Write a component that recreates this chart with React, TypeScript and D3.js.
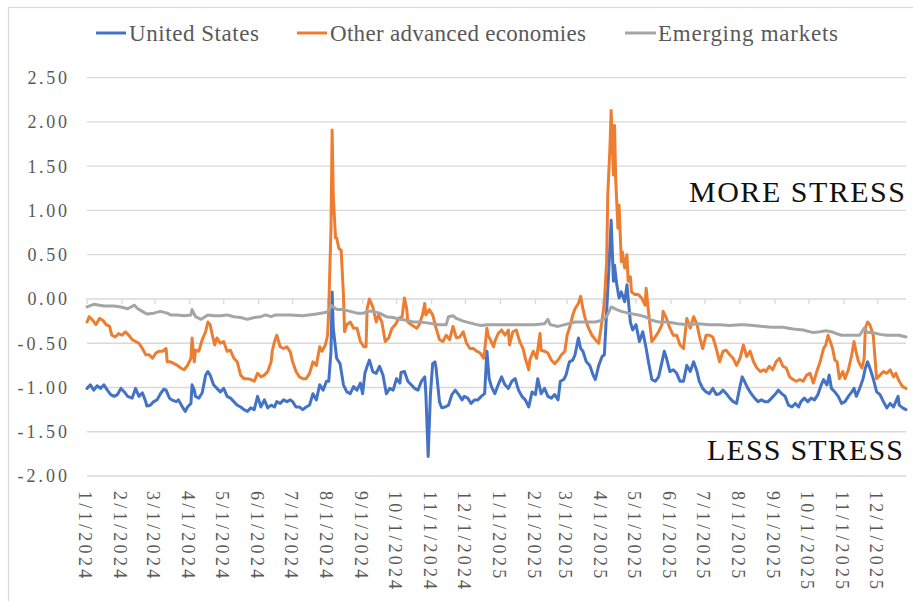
import React from "react";
import * as d3 from "d3";

// x categories: days since 1 Jan 2024 (first element of each pair), value (second)
const usSeries: [number, number][] = [
  [0,-1.01],[3,-0.97],[6,-1.03],[9,-0.98],[12,-1.01],[15,-0.97],[18,-1.03],[21,-1.08],[24,-1.10],[27,-1.08],[30,-1.01],[33,-1.05],[36,-1.10],[40,-1.12],[43,-1.01],[46,-1.10],[49,-1.06],[52,-1.16],[53,-1.21],[56,-1.20],[59,-1.16],[62,-1.14],[65,-1.07],[68,-1.02],[70,-1.03],[73,-1.12],[75,-1.14],[79,-1.16],[81,-1.14],[84,-1.21],[87,-1.27],[89,-1.22],[92,-1.18],[93,-0.97],[95,-1.03],[96,-1.10],[99,-1.12],[102,-1.06],[105,-0.86],[107,-0.82],[109,-0.86],[112,-0.97],[115,-1.01],[118,-1.05],[121,-1.01],[124,-1.10],[127,-1.12],[130,-1.16],[133,-1.20],[136,-1.22],[139,-1.25],[142,-1.27],[145,-1.23],[148,-1.25],[151,-1.10],[154,-1.22],[157,-1.14],[160,-1.23],[163,-1.20],[166,-1.22],[168,-1.16],[171,-1.18],[174,-1.14],[177,-1.16],[180,-1.14],
  [182,-1.16],[185,-1.22],[188,-1.22],[191,-1.25],[194,-1.22],[197,-1.20],[200,-1.07],[203,-1.14],[206,-0.97],[209,-1.03],[212,-0.93],[214,-0.93],[216,-0.59],[217,0.08],[218,-0.33],[221,-0.67],[224,-0.73],[227,-0.97],[230,-1.05],[233,-1.07],[236,-0.99],[239,-1.03],[242,-0.95],[244,-1.07],[246,-0.84],[248,-0.76],[250,-0.69],[253,-0.82],[256,-0.84],[259,-0.76],[262,-0.86],[265,-1.07],[268,-1.01],[271,-1.03],[274,-0.90],[277,-0.95],[278,-0.83],[281,-0.82],[284,-0.93],[287,-0.97],[290,-1.01],[293,-1.03],[296,-0.93],[299,-0.88],[300,-1.08],[302,-1.78],[304,-1.08],[306,-0.73],[308,-0.71],[309,-0.78],[312,-1.16],[314,-1.23],[317,-1.22],[320,-1.20],[323,-1.08],[326,-1.03],[329,-1.08],[332,-1.14],[334,-1.10],[337,-1.12],[340,-1.18],[343,-1.14],[346,-1.14],[349,-1.10],[352,-1.07],[354,-0.59],[356,-0.90],[358,-0.99],
  [361,-1.07],[364,-0.97],[367,-0.88],[370,-0.97],[373,-1.01],[376,-0.93],[379,-0.90],[382,-1.03],[385,-1.10],[388,-1.14],[391,-1.22],[394,-1.05],[397,-1.08],[399,-0.90],[402,-1.07],[405,-1.01],[408,-1.10],[411,-1.12],[414,-1.08],[417,-1.14],[419,-0.93],[422,-0.91],[424,-0.86],[427,-0.71],[430,-0.69],[432,-0.63],[435,-0.44],[437,-0.56],[439,-0.59],[442,-0.71],[445,-0.75],[448,-0.86],[450,-0.91],[453,-0.75],[456,-0.65],[458,-0.63],[460,-0.14],[462,0.35],[464,0.89],[466,0.20],[467,0.38],[469,0.16],[471,0.01],[473,0.08],[476,-0.03],[478,0.16],[481,-0.26],[483,-0.35],[486,-0.29],[489,-0.48],[492,-0.37],[495,-0.56],[497,-0.71],[500,-0.91],[503,-0.93],[506,-0.88],[509,-0.71],[511,-0.59],[513,-0.67],[516,-0.82],[519,-0.80],[522,-0.84],[525,-0.93],[528,-0.93],[531,-0.75],[534,-0.82],[537,-0.71],[540,-0.82],[542,-0.93],
  [545,-1.01],[548,-1.05],[551,-1.07],[554,-1.01],[557,-1.08],[560,-1.07],[563,-1.03],[566,-1.07],[569,-1.12],[572,-1.16],[575,-1.18],[578,-0.99],[580,-0.88],[582,-0.93],[585,-1.01],[588,-1.07],[591,-1.12],[594,-1.16],[597,-1.14],[600,-1.16],[603,-1.16],[606,-1.12],[609,-1.08],[612,-1.03],[615,-1.07],[618,-1.10],[621,-1.20],[624,-1.22],[627,-1.18],[630,-1.22],[632,-1.16],[635,-1.12],[638,-1.16],[641,-1.12],[644,-1.14],[647,-1.08],[650,-0.97],[652,-0.91],[655,-0.97],[657,-0.86],[659,-1.01],[662,-1.05],[665,-1.10],[668,-1.18],[671,-1.16],[674,-1.10],[677,-1.05],[679,-1.01],[681,-1.10],[684,-1.01],[687,-0.90],[689,-0.78],[691,-0.71],[693,-0.78],[696,-0.90],[699,-1.05],[702,-1.08],[705,-1.16],[708,-1.23],[711,-1.18],[714,-1.22],[716,-1.16],[718,-1.10],[719,-1.20],[722,-1.23],[725,-1.25],
];

const otherAdvancedSeries: [number, number][] = [
  [0,-0.26],[2,-0.20],[5,-0.24],[8,-0.29],[11,-0.22],[14,-0.24],[17,-0.29],[20,-0.31],[22,-0.41],[25,-0.43],[28,-0.39],[31,-0.41],[34,-0.37],[37,-0.41],[40,-0.46],[43,-0.48],[46,-0.50],[49,-0.56],[52,-0.63],[55,-0.63],[58,-0.67],[61,-0.61],[64,-0.59],[67,-0.59],[70,-0.56],[71,-0.71],[74,-0.71],[77,-0.73],[80,-0.75],[83,-0.78],[86,-0.80],[89,-0.75],[92,-0.67],[93,-0.44],[95,-0.71],[96,-0.58],[99,-0.59],[102,-0.46],[105,-0.37],[107,-0.26],[109,-0.29],[111,-0.41],[113,-0.52],[115,-0.44],[118,-0.50],[121,-0.48],[124,-0.59],[127,-0.58],[130,-0.67],[133,-0.71],[136,-0.86],[139,-0.90],[142,-0.90],[145,-0.91],[148,-0.93],[151,-0.84],[154,-0.88],[157,-0.86],[160,-0.82],[163,-0.71],[164,-0.59],[166,-0.48],[168,-0.41],[171,-0.54],[174,-0.56],[177,-0.54],[180,-0.60],
  [182,-0.71],[185,-0.82],[188,-0.88],[191,-0.90],[194,-0.90],[197,-0.84],[200,-0.71],[203,-0.75],[206,-0.54],[208,-0.59],[211,-0.52],[213,-0.41],[214,-0.11],[216,0.80],[217,1.91],[218,1.17],[220,0.69],[221,0.69],[223,0.57],[225,0.55],[227,0.05],[228,-0.37],[230,-0.29],[233,-0.26],[236,-0.33],[239,-0.33],[242,-0.48],[245,-0.54],[247,-0.54],[248,-0.11],[250,0.00],[253,-0.09],[256,-0.26],[258,-0.18],[261,-0.26],[264,-0.48],[267,-0.44],[270,-0.33],[273,-0.29],[276,-0.22],[279,-0.20],[281,0.01],[283,-0.11],[284,-0.26],[287,-0.29],[292,-0.33],[294,-0.29],[297,-0.18],[299,-0.05],[300,-0.18],[303,-0.12],[306,-0.18],[309,-0.33],[312,-0.46],[315,-0.48],[318,-0.41],[321,-0.46],[324,-0.31],[327,-0.44],[330,-0.43],[333,-0.37],[336,-0.50],[339,-0.56],[342,-0.56],[345,-0.59],[348,-0.61],[351,-0.67],[352,-0.59],[354,-0.33],[355,-0.41],[357,-0.46],[360,-0.54],
  [361,-0.48],[364,-0.39],[367,-0.35],[370,-0.41],[373,-0.35],[374,-0.52],[377,-0.37],[380,-0.35],[383,-0.48],[386,-0.56],[388,-0.67],[391,-0.80],[392,-0.69],[395,-0.59],[398,-0.67],[401,-0.39],[402,-0.58],[405,-0.59],[408,-0.61],[411,-0.69],[414,-0.73],[417,-0.69],[420,-0.63],[423,-0.59],[425,-0.41],[428,-0.29],[430,-0.18],[432,-0.11],[435,-0.05],[437,0.03],[439,-0.11],[441,-0.22],[444,-0.33],[447,-0.41],[450,-0.46],[453,-0.50],[455,-0.33],[457,-0.14],[458,-0.03],[460,0.42],[461,1.17],[463,1.74],[464,2.13],[466,1.40],[467,1.96],[468,1.36],[470,0.80],[471,1.06],[473,0.42],[474,0.53],[476,0.35],[478,0.50],[479,0.20],[481,0.25],[482,0.08],[485,0.05],[488,0.05],[491,0.01],[494,-0.07],[495,0.12],[497,-0.14],[500,-0.48],[503,-0.43],[506,-0.37],[509,-0.29],[510,-0.14],[513,-0.22],[516,-0.33],[519,-0.41],[522,-0.41],[525,-0.52],[528,-0.56],[531,-0.22],[534,-0.33],[537,-0.20],[540,-0.29],[542,-0.41],
  [545,-0.56],[548,-0.41],[551,-0.41],[554,-0.43],[557,-0.56],[560,-0.71],[563,-0.59],[566,-0.58],[569,-0.63],[572,-0.67],[575,-0.75],[578,-0.67],[581,-0.52],[584,-0.65],[587,-0.59],[590,-0.71],[593,-0.78],[596,-0.82],[599,-0.80],[601,-0.82],[604,-0.76],[607,-0.80],[610,-0.71],[613,-0.67],[616,-0.76],[619,-0.78],[622,-0.88],[625,-0.91],[628,-0.93],[631,-0.91],[634,-0.93],[637,-0.86],[640,-0.84],[643,-0.95],[646,-0.82],[649,-0.71],[652,-0.56],[654,-0.52],[656,-0.41],[658,-0.48],[660,-0.56],[662,-0.69],[664,-0.71],[666,-0.90],[669,-0.82],[671,-0.90],[674,-0.80],[677,-0.63],[679,-0.48],[681,-0.61],[683,-0.71],[686,-0.78],[688,-0.67],[689,-0.33],[691,-0.26],[693,-0.29],[696,-0.41],[699,-0.90],[702,-0.86],[705,-0.82],[708,-0.84],[711,-0.80],[714,-0.88],[716,-0.84],[719,-0.93],[722,-0.99],[725,-1.01],
];

const emergingSeries: [number, number][] = [
  [0,-0.09],[6,-0.06],[15,-0.08],[24,-0.08],[30,-0.09],[36,-0.11],[42,-0.07],[45,-0.11],[49,-0.14],[53,-0.17],[59,-0.16],[65,-0.14],[71,-0.16],[74,-0.18],[80,-0.18],[86,-0.19],[92,-0.18],[93,-0.12],[96,-0.20],[101,-0.23],[107,-0.18],[112,-0.19],[118,-0.19],[124,-0.18],[130,-0.20],[136,-0.21],[142,-0.23],[148,-0.21],[154,-0.20],[158,-0.18],[163,-0.20],[167,-0.18],[174,-0.18],[180,-0.18],
  [191,-0.19],[203,-0.17],[212,-0.15],[215,-0.11],[216,-0.07],[220,-0.11],[222,-0.12],[227,-0.12],[233,-0.14],[239,-0.16],[245,-0.16],[248,-0.14],[253,-0.14],[259,-0.16],[265,-0.20],[271,-0.21],[277,-0.23],[283,-0.24],[289,-0.26],[295,-0.26],[301,-0.27],[306,-0.28],[312,-0.29],[318,-0.29],[320,-0.20],[324,-0.19],[327,-0.22],[333,-0.25],[339,-0.27],[345,-0.29],[349,-0.30],[354,-0.29],[357,-0.29],[361,-0.29],
  [373,-0.29],[385,-0.29],[396,-0.29],[405,-0.28],[408,-0.23],[410,-0.29],[417,-0.31],[423,-0.29],[432,-0.26],[441,-0.26],[450,-0.26],[456,-0.24],[460,-0.20],[464,-0.09],[469,-0.12],[473,-0.14],[479,-0.16],[488,-0.18],[494,-0.20],[500,-0.24],[506,-0.26],[514,-0.26],[523,-0.28],[532,-0.29],[541,-0.28],
  [551,-0.29],[560,-0.29],[569,-0.30],[578,-0.29],[582,-0.29],[590,-0.30],[598,-0.31],[607,-0.32],[616,-0.32],[625,-0.34],[634,-0.35],[643,-0.38],[649,-0.37],[654,-0.36],[659,-0.37],[663,-0.39],[668,-0.41],[672,-0.41],[678,-0.41],[684,-0.41],[688,-0.33],[691,-0.38],[696,-0.38],[702,-0.40],[708,-0.41],[714,-0.41],[719,-0.41],[725,-0.43],
];

const seriesNames = ["United States", "Other advanced economies", "Emerging markets"];
const seriesColors = ["#4472C4", "#ED7D31", "#A5A5A5"];

const xTickLabels = [
  "1/1/2024","2/1/2024","3/1/2024","4/1/2024","5/1/2024","6/1/2024","7/1/2024","8/1/2024","9/1/2024","10/1/2024","11/1/2024","12/1/2024",
  "1/1/2025","2/1/2025","3/1/2025","4/1/2025","5/1/2025","6/1/2025","7/1/2025","8/1/2025","9/1/2025","10/1/2025","11/1/2025","12/1/2025",
];
const yTickValues = [-2, -1.5, -1, -0.5, 0, 0.5, 1, 1.5, 2, 2.5];

const FONT = "'Liberation Serif', 'Times New Roman', serif";
const START = new Date(2024, 0, 1);
const toDate = (d: number) => d3.timeDay.offset(START, d);
const parseLabel = d3.timeParse("%m/%d/%Y");

export default function App() {
  const W = 913, H = 601;
  const plotL = 87, plotR = 906, plotT = 77.7, plotB = 476;
  const allDays = [...usSeries, ...otherAdvancedSeries, ...emergingSeries].map((p) => p[0]);
  const x = d3.scaleTime().domain([toDate(0), toDate(d3.max(allDays) as number)]).range([plotL, plotR]);
  const y = d3.scaleLinear().domain([-2, 2.5]).range([plotB, plotT]);
  const line = d3
    .line<[number, number]>()
    .x((d) => x(toDate(d[0])))
    .y((d) => y(d[1]));
  const fmt = (v: number) => d3.format(".2f")(v).replace("\u2212", "-");
  const allSeries = [usSeries, otherAdvancedSeries, emergingSeries];

  const legend = [
    { x0: 96, x1: 126, tx: 129, tw: 130 },
    { x0: 297, x1: 327, tx: 330, tw: 256 },
    { x0: 625, x1: 656, tx: 658, tw: 180 },
  ];

  return (
    <svg width={W} height={H} style={{ position: "absolute", left: 0, top: 0, background: "#fff" }}>
      <rect x={8.5} y={7.5} width={1000} height={1000} fill="none" stroke="#d9d9d9" strokeWidth={1.2} />
      {/* gridlines */}
      {yTickValues.map((v) => (
        <line key={v} x1={plotL} x2={plotR} y1={y(v)} y2={y(v)} stroke="#d9d9d9" strokeWidth={1.3} />
      ))}
      {/* axis ticks at zero */}
      {xTickLabels.map((l) => {
        const xx = x(parseLabel(l) as Date);
        return <line key={"t" + l} x1={xx} x2={xx} y1={y(0)} y2={y(0) + 5} stroke="#d9d9d9" strokeWidth={1.3} />;
      })}
      {/* y labels */}
      {yTickValues.map((v) => {
        const s = fmt(v);
        return (
          <text key={"y" + v} x={67} y={y(v)} dy="0.35em" textAnchor="end" fontFamily={FONT} fontSize={18}
            fill="#595959" textLength={s.length * 9.9} lengthAdjust="spacing">
            {s}
          </text>
        );
      })}
      {/* x labels */}
      {xTickLabels.map((l) => {
        const xx = x(parseLabel(l) as Date) - 1.5;
        return (
          <text key={"x" + l} transform={`translate(${xx},491) rotate(90)`} dy="0.35em" fontFamily={FONT} fontSize={18}
            fill="#595959" textLength={l.length * 10.9} lengthAdjust="spacing">
            {l}
          </text>
        );
      })}
      {/* series */}
      {allSeries.map((s, i) => (
        <path key={seriesNames[i]} d={line(s) || ""} fill="none" stroke={seriesColors[i]} strokeWidth={3}
          strokeLinejoin="round" strokeLinecap="round" />
      ))}
      {/* legend */}
      {seriesNames.map((n, i) => (
        <g key={"lg" + n}>
          <line x1={legend[i].x0} x2={legend[i].x1} y1={33} y2={33} stroke={seriesColors[i]} strokeWidth={3} />
          <text x={legend[i].tx} y={33} dy="0.35em" fontFamily={FONT} fontSize={23} fill="#595959"
            textLength={legend[i].tw} lengthAdjust="spacing">
            {n}
          </text>
        </g>
      ))}
      <text x={689} y={201.5} fontFamily={FONT} fontSize={30} fill="#111" textLength={216} lengthAdjust="spacing">
        MORE STRESS
      </text>
      <text x={707} y={460} fontFamily={FONT} fontSize={30} fill="#111" textLength={196} lengthAdjust="spacing">
        LESS STRESS
      </text>
    </svg>
  );
}
